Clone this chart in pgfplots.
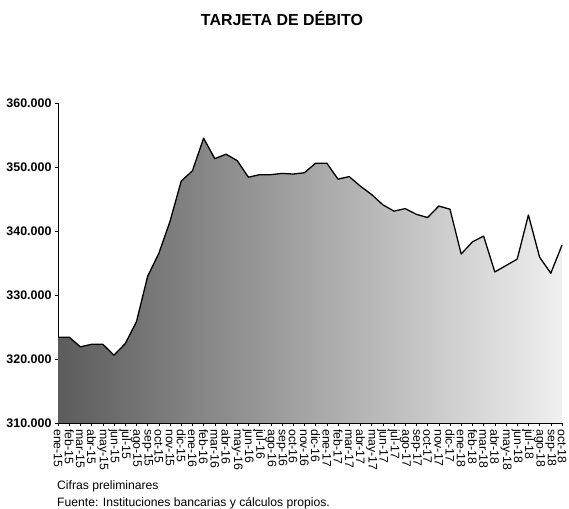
\documentclass[border=0pt]{standalone}
\usepackage{fontspec}
\setmainfont{Liberation Sans}
\usepackage{pgfplots}
\pgfplotsset{compat=1.18}
\usepackage{pgfplotstable}

\pgfplotstableread{
x y
0 323400
1 323400
2 321900
3 322300
4 322300
5 320600
6 322400
7 325800
8 332900
9 336500
10 341500
11 347800
12 349400
13 354500
14 351300
15 352000
16 351000
17 348400
18 348800
19 348800
20 349000
21 348900
22 349100
23 350600
24 350600
25 348100
26 348500
27 347000
28 345700
29 344100
30 343100
31 343500
32 342600
33 342100
34 343900
35 343400
36 336400
37 338300
38 339200
39 333600
40 334600
41 335600
42 342500
43 335900
44 333400
45 337800
}\datatable

\begin{document}
\begin{tikzpicture}[x=1bp,y=1bp]
\path[use as bounding box] (0,0) rectangle (569,509);
\node[font=\fontsize{16}{18}\selectfont\bfseries] at (282,490) {TARJETA DE DÉBITO};
\node[anchor=west,font=\fontsize{12.2}{14}\selectfont,inner sep=0pt] at (57,23) {Cifras preliminares};
\node[anchor=west,font=\fontsize{12.2}{14}\selectfont,inner sep=0pt] at (57,5.5) {Fuente: Instituciones bancarias y cálculos propios.};
\begin{axis}[
  at={(58bp,86bp)}, anchor=south west,
  scale only axis, width=504bp, height=320bp,
  xmin=0, xmax=45, ymin=310000, ymax=360000,
  axis x line*=bottom, axis y line*=left,
  axis line style={black, line width=0.8pt},
  x axis line style={line width=1.6pt},
  tick align=outside, major tick length=3bp,
  tick style={black, line width=0.6pt},
  xtick={0,...,45},
  xticklabels={ene-15,feb-15,mar-15,abr-15,may-15,jun-15,jul-15,ago-15,sep-15,oct-15,nov-15,dic-15,ene-16,feb-16,mar-16,abr-16,may-16,jun-16,jul-16,ago-16,sep-16,oct-16,nov-16,dic-16,ene-17,feb-17,mar-17,abr-17,may-17,jun-17,jul-17,ago-17,sep-17,oct-17,nov-17,dic-17,ene-18,feb-18,mar-18,abr-18,may-18,jun-18,jul-18,ago-18,sep-18,oct-18},
  xticklabel shift=2bp,
  xticklabel style={rotate=-90, anchor=west, font=\fontsize{12.3}{13}\selectfont, inner sep=1pt},
  ytick={310000,320000,330000,340000,350000,360000},
  yticklabels={310.000,320.000,330.000,340.000,350.000,360.000},
  scaled y ticks=false,
  yticklabel style={font=\fontsize{12.5}{14}\selectfont\bfseries},
  clip=false,
]
\addplot[draw=none, left color=black!64, middle color=black!38, right color=black!6] table[x=x,y=y]{\datatable} \closedcycle;
\addplot[black, line width=1.3pt, line join=round, mark=none] table[x=x,y=y]{\datatable};
\end{axis}
\end{tikzpicture}
\end{document}
